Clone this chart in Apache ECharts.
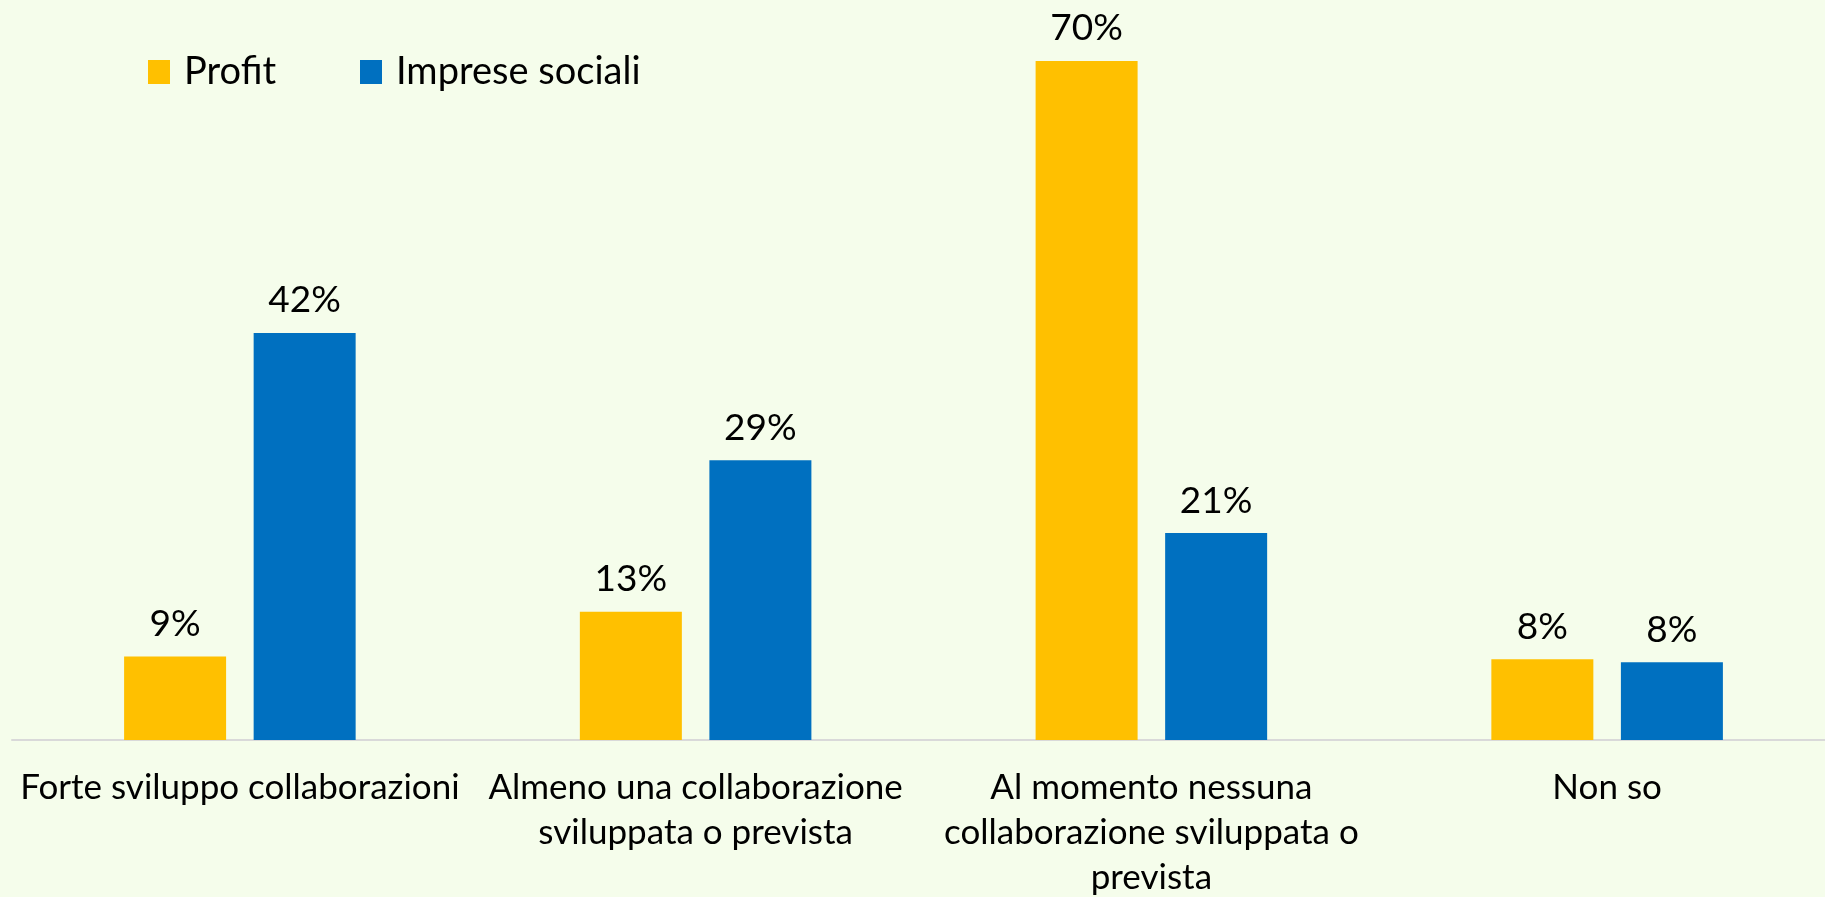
<!DOCTYPE html>
<html>
<head>
<meta charset="utf-8">
<script src="https://cdn.jsdelivr.net/npm/echarts@6/dist/echarts.min.js"></script>
<style>
  html, body { margin: 0; padding: 0; background: #f5fdeb; }
  #chart { width: 1825px; height: 897px; }
</style>
</head>
<body>
<div id="chart"></div>
<script>
const categories = [
  'Forte sviluppo collaborazioni',
  'Almeno una collaborazione\nsviluppata o prevista',
  'Al momento nessuna\ncollaborazione sviluppata o\nprevista',
  'Non so'
]
const profit = [8.6, 13.2, 69.9, 8.3]
const impreseSociali = [41.9, 28.8, 21.3, 8.0]

const chart = echarts.init(document.getElementById('chart'))

const labelStyle = {
  show: true,
  position: 'top',
  distance: 14,
  color: '#000',
  fontFamily: 'Lato',
  fontSize: 37,
  formatter: p => Math.round(p.value) + '%'
}

const option = {
  backgroundColor: '#f5fdeb',
  legend: {
    left: 143,
    top: 48,
    itemWidth: 22,
    itemHeight: 24,
    itemGap: 84,
    icon: 'rect',
    textStyle: { fontFamily: 'Lato', fontSize: 38, color: '#000', padding: [0, 0, 0, 9] },
    data: ['Profit', 'Imprese sociali']
  },
  grid: { left: 12, right: -10, top: 61, bottom: 157, outerBoundsMode: 'none', containLabel: false },
  xAxis: {
    type: 'category',
    data: categories,
    axisLine: { lineStyle: { color: '#d9d9d9', width: 2 } },
    axisTick: { show: false },
    axisLabel: {
      interval: 0,
      margin: 25,
      color: '#000',
      fontFamily: 'Lato',
      fontSize: 35,
      lineHeight: 45
    }
  },
  yAxis: {
    type: 'value',
    min: 0,
    max: 69.9,
    show: false,
    splitLine: { show: false }
  },
  series: [
    {
      name: 'Profit',
      type: 'bar',
      data: profit,
      itemStyle: { color: '#ffc000' },
      barWidth: 102,
      barGap: '27%',
      label: labelStyle
    },
    {
      name: 'Imprese sociali',
      type: 'bar',
      data: impreseSociali,
      itemStyle: { color: '#0070c0' },
      barWidth: 102,
      label: labelStyle
    }
  ]
}

chart.setOption(option)
window.addEventListener('resize', () => { chart.resize() })
</script>
</body>
</html>
